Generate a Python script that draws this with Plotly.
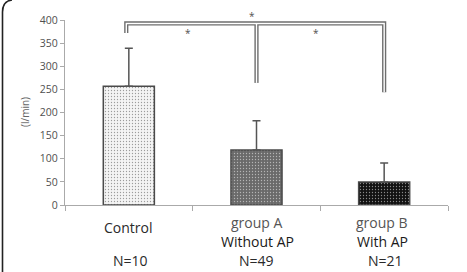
import plotly.graph_objects as go

categories = ["Control", "group A", "group B"]
sublabels = ["", "Without AP", "With AP"]
n_labels = ["N=10", "N=49", "N=21"]
means = [257, 119, 50]
err_upper = [82, 63, 41]
y_ticks = [0, 50, 100, 150, 200, 250, 300, 350, 400]

W, H = 467, 272
L, R, T, B = 65, 19, 20, 67
PW, PH = W - L - R, H - T - B

def px(x):
    return (x - L) / PW

def py(y):
    return (H - B - y) / PH

fig = go.Figure()
fig.add_trace(go.Bar(
    x=[0, 1, 2], y=means, width=0.4,
    marker=dict(
        color=["#f4f4f4", "#6a6a6a", "#121212"],
        line=dict(color="#4a4a4a", width=1.5),
        pattern=dict(shape=".", size=3, solidity=0.15,
                     fgcolor=["#c8c8c8", "#808080", "#2a2a2a"],
                     fillmode="overlay"),
    ),
    error_y=dict(type="data", symmetric=False, array=err_upper,
                 arrayminus=[0, 0, 0], color="#555555", thickness=1.5, width=4),
    showlegend=False, hoverinfo="skip",
))

# significance brackets (double line)
yt = 392.5
segments = [
    ([-0.02, -0.02, 2.0, 2.0], [372, yt, yt, 244]),
    ([1.0, 1.0], [yt, 264]),
]
for col, w in [("#6e6e6e", 4.2), ("#ffffff", 1.4)]:
    for xs, ys in segments:
        fig.add_trace(go.Scatter(x=xs, y=ys, mode="lines",
                                 line=dict(color=col, width=w),
                                 cliponaxis=False, showlegend=False,
                                 hoverinfo="skip"))

font_fam = "Open Sans, Noto Sans, sans-serif"

def ann(x, y, text, size, color, angle=0):
    return dict(x=px(x), y=py(y), xref="paper", yref="paper", text=text,
                showarrow=False, xanchor="center", yanchor="middle",
                textangle=angle, font=dict(size=size, color=color, family=font_fam))

annotations = []
for (sx, sy) in [(252, 14), (188, 31), (316, 31)]:
    annotations.append(ann(sx, sy + 2, "*", 10, "#505050"))

LS = 14
annotations.append(ann(128, 227, categories[0], LS, "#2a2a2a"))
for i, cx in [(1, 257), (2, 382)]:
    annotations.append(ann(cx, 223, categories[i], LS, "#555555"))
    annotations.append(ann(cx, 241, sublabels[i], LS, "#1a1a1a"))
for i, cx in [(0, 130), (1, 256), (2, 385)]:
    annotations.append(ann(cx, 260, n_labels[i], LS, "#2a2a2a"))
annotations.append(ann(25, 112, "(l/min)", 10, "#666666", -90))

# outer rounded frame (left edge visible)
frame_path = (f"M {px(2.5)},{py(272)} L {px(2.5)},{py(12)} "
              f"Q {px(2.5)},{py(1)} {px(12)},{py(0)}")

fig.update_layout(
    width=W, height=H,
    margin=dict(l=L, r=R, t=T, b=B),
    paper_bgcolor="white", plot_bgcolor="white",
    font=dict(family=font_fam),
    xaxis=dict(range=[-0.5, 2.5], tickvals=[-0.5, 0.5, 1.5, 2.5],
               showticklabels=False, ticks="outside", ticklen=5,
               tickcolor="#aaaaaa", showline=True, linecolor="#aaaaaa",
               linewidth=1.3, showgrid=False, zeroline=False, fixedrange=True),
    yaxis=dict(range=[0, 400], tickvals=y_ticks, ticks="outside", ticklen=4,
               tickcolor="#aaaaaa", showline=True, linecolor="#aaaaaa",
               linewidth=1.3, showgrid=False, zeroline=False,
               tickfont=dict(size=10.5, color="#505050"), fixedrange=True),
    annotations=annotations,
    shapes=[dict(type="path", path=frame_path, xref="paper", yref="paper",
                 line=dict(color="#222222", width=1.6))],
)

fig.write_html("out.html")
